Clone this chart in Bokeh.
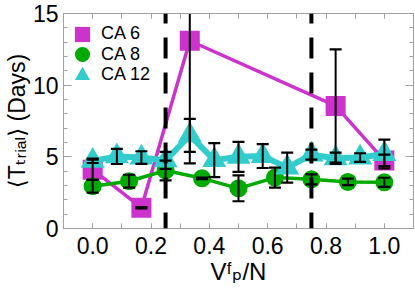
import math
from bokeh.plotting import figure
from bokeh.models import (Range1d, LinearAxis, FixedTicker, Span, Legend, LegendItem,
                          CustomJSTickFormatter)
from bokeh.embed import file_html
from bokeh.resources import INLINE

# ---------------- data ----------------
x_ticks = [0.0, 0.2, 0.4, 0.6, 0.8, 1.0]
x_tick_labels = ["0.0", "0.2", "0.4", "0.6", "0.8", "1.0"]
x_minor = [-0.1, 0.0, 0.1, 0.2, 0.3, 0.4, 0.5, 0.6, 0.7, 0.8, 0.9, 1.0, 1.1]
y_ticks = [0, 5, 10, 15]
y_tick_labels = ["0", "5", "10", "15"]
y_minor = list(range(0, 16))

x_title = "V\u1da0\u209a/N"                                   # V^f_p/N
y_title = "\u27e8T\u209c\u1d63\u1d62\u2090\u2097\u27e9 (Days)"  # <T_trial> (Days)

threshold_x = [0.25, 0.75]

ca6_x = [0.0, 0.167, 0.333, 0.833, 1.0]
ca6_y = [4.1, 1.45, 13.1, 8.55, 4.75]
ca6_err = [0.7, 0.05, 8.55, 3.95, 0.4]

ca8_x = [0.0, 0.125, 0.25, 0.375, 0.5, 0.625, 0.75, 0.875, 1.0]
ca8_y = [2.95, 3.3, 4.05, 3.5, 2.8, 3.55, 3.43, 3.25, 3.22]
ca8_err = [0.45, 0.45, 0.69, 0.05, 0.9, 0.7, 0.35, 0.23, 0.32]

ca12_x = [0.0, 0.083, 0.167, 0.25, 0.333, 0.417, 0.5, 0.583, 0.667, 0.75, 0.833, 0.917, 1.0]
ca12_y = [4.72, 5.03, 4.95, 4.75, 6.5, 4.77, 5.0, 5.05, 4.25, 5.15, 4.9, 4.95, 5.2]
ca12_err = [0.15, 0.53, 0.44, 0.6, 1.15, 1.18, 1.05, 0.83, 1.05, 0.35, 0.4, 0.3, 1.0]

series_names = ["CA 6", "CA 8", "CA 12"]

# ---------------- style ----------------
MAG = "#CC33CC"
GREEN = "#00AA00"
CYAN = "#33CCCC"
GRAY = "#A0A0A0"
FONT = "Liberation Sans, DejaVu Sans"

p = figure(width=415, height=298, x_range=Range1d(-0.1, 1.1), y_range=Range1d(0, 15),
           output_backend="svg", toolbar_location=None,
           x_axis_location=None, y_axis_location=None,
           min_border_left=62, min_border_right=2, min_border_top=13, min_border_bottom=70)
p.grid.visible = False
p.outline_line_color = GRAY
p.outline_line_width = 1
p.background_fill_color = "white"
p.border_fill_color = "white"

FMT_CODE = ("const i = tvals.findIndex(t => Math.abs(t - tick) < 1e-9); "
            "return i >= 0 ? tlabels[i] : '';")
xfmt = CustomJSTickFormatter(args=dict(tvals=x_ticks, tlabels=x_tick_labels), code=FMT_CODE)
yfmt = CustomJSTickFormatter(args=dict(tvals=y_ticks, tlabels=y_tick_labels), code=FMT_CODE)


def make_axis(ticks, minor, fmt, show_labels, tick_in, minor_in):
    ax = LinearAxis(ticker=FixedTicker(ticks=ticks, minor_ticks=minor), formatter=fmt,
                    axis_line_color=GRAY, major_tick_line_color=GRAY, minor_tick_line_color=GRAY,
                    major_tick_in=tick_in, major_tick_out=0, minor_tick_in=minor_in, minor_tick_out=0,
                    major_label_text_font=FONT, major_label_text_color="black")
    if show_labels:
        ax.major_label_text_font_size = "23px"
    else:
        ax.major_label_text_font_size = "0px"
        ax.major_label_standoff = 0
    return ax


ax_b = make_axis(x_ticks, x_minor, xfmt, True, 5, 5)
ax_b.major_label_standoff = 8
ax_b.axis_label = x_title
ax_b.axis_label_standoff = 1
ax_t = make_axis(x_ticks, x_minor, xfmt, False, 5, 5)
ax_l = make_axis(y_ticks, y_minor, yfmt, True, 8, 4)
ax_l.major_label_standoff = 5
ax_l.axis_label = y_title
ax_l.axis_label_standoff = 0
ax_r = make_axis(y_ticks, y_minor, yfmt, False, 8, 4)
for ax in (ax_b, ax_l):
    ax.axis_label_text_font = FONT
    ax.axis_label_text_font_size = "24px"
    ax.axis_label_text_font_style = "normal"
    ax.axis_label_text_color = "black"
ax_l.axis_label_text_font_size = "23px"
p.add_layout(ax_b, "below")
p.add_layout(ax_t, "above")
p.add_layout(ax_l, "left")
p.add_layout(ax_r, "right")

# ---------------- series ----------------
p.line(ca6_x, ca6_y, line_color=MAG, line_width=3.5)
r6 = p.scatter(ca6_x, ca6_y, marker="square", size=20, fill_color=MAG, line_color=None)
p.line(ca8_x, ca8_y, line_color=GREEN, line_width=3.5)
r8 = p.scatter(ca8_x, ca8_y, marker="circle", size=18, fill_color=GREEN, line_color=None)
p.line(ca12_x, ca12_y, line_color=CYAN, line_width=6)
r12 = p.scatter(ca12_x, ca12_y, marker="triangle", size=24, fill_color=CYAN, line_color=None)

# error bars (clipped to the frame like the reference)
for xs, ys, es in [(ca6_x, ca6_y, ca6_err), (ca8_x, ca8_y, ca8_err), (ca12_x, ca12_y, ca12_err)]:
    lo = [y - e for y, e in zip(ys, es)]
    hi = [y + e for y, e in zip(ys, es)]
    p.segment(x0=xs, y0=lo, x1=xs, y1=hi, line_color="black", line_width=2)
    p.scatter(xs, lo, marker="dash", size=12, line_color="black", line_width=2.2)
    p.scatter(xs, hi, marker="dash", size=12, line_color="black", line_width=2.2)

for xv in threshold_x:
    p.add_layout(Span(location=xv, dimension="height", line_color="black", line_width=4,
                      line_dash="21 14", line_dash_offset=11))

# ---------------- legend (one row per legend so rows sit close together) ----------------
legend_rows = [(series_names[0], r6, 175.5), (series_names[1], r8, 155), (series_names[2], r12, 134.5)]
for name, rend, ybot in legend_rows:
    lg = Legend(items=[LegendItem(label=name, renderers=[rend])],
                location=(0, ybot), glyph_width=38, glyph_height=38,
                padding=0, margin=0, label_standoff=0,
                background_fill_alpha=0, border_line_alpha=0,
                label_text_font=FONT, label_text_font_size="18px",
                label_text_color="black")
    p.add_layout(lg)

open("out.html", "w").write(file_html(p, INLINE))
